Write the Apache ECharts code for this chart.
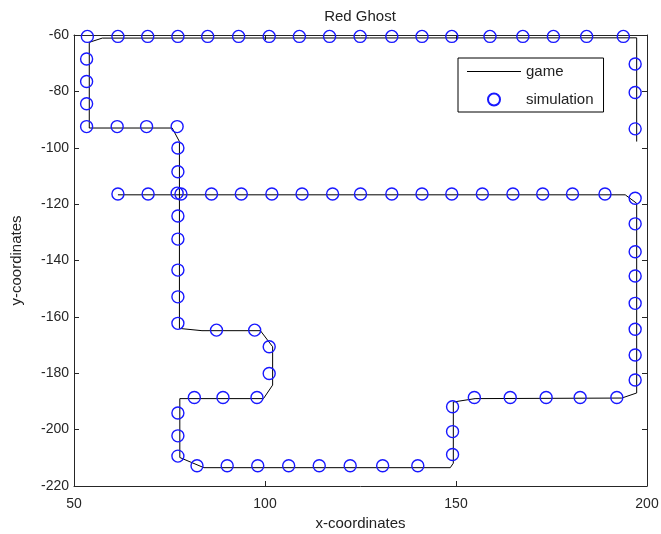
<!DOCTYPE html>
<html>
<head>
<meta charset="utf-8">
<script src="https://cdn.jsdelivr.net/npm/echarts@6/dist/echarts.min.js"></script>
<style>
  html, body { margin: 0; padding: 0; background: #fff; }
  #main { width: 661px; height: 534px; }
</style>
</head>
<body>
<div id="main"></div>
<script>
// path of the ghost in the game (corners only)
const gameX = [61.5, 194.3, 197.3, 197.3, 193.4, 155.0, 149.3, 149.3, 148.5, 84.0, 77.7, 77.7, 99.6, 102.0, 102.0, 98.8, 83.5, 77.6, 77.6, 75.7, 54.0, 54.0, 57.4, 197.3, 197.3];
const gameY = [-116.7, -116.7, -119.7, -187.0, -188.8, -189.0, -190.2, -211.9, -213.5, -213.5, -209.9, -189.0, -189.0, -184.2, -170.6, -164.9, -164.9, -164.1, -97.8, -93.0, -93.0, -62.6, -61.1, -61.0, -97.8];

// simulated positions
const simX = [
  53.5, 61.5, 69.3, 77.2, 85.0, 93.1, 101.1, 109.0, 116.9, 124.9, 133.2, 141.1, 148.9, 158.9, 167.5, 175.5, 184.2, 193.8,
  53.3, 53.3, 53.3, 53.3,
  61.3, 69.0, 77.0,
  77.2, 77.2, 77.0, 77.2, 77.2, 77.2, 77.2, 77.2,
  87.3, 97.3, 101.1, 101.1,
  97.9, 89.0, 81.5,
  77.2, 77.2, 77.2,
  82.2, 90.1, 98.1, 106.2, 114.2, 122.3, 130.8, 140.0,
  149.1, 149.1, 149.1,
  154.8, 164.2, 173.6, 182.5, 192.1,
  196.9, 196.9, 196.9, 196.9, 196.9, 196.9, 196.9, 196.9,
  61.5, 69.4, 78.0, 86.0, 93.8, 101.8, 109.7, 117.7, 125.0, 133.2, 141.1, 148.9, 156.9, 164.9, 172.7, 180.5, 189.0,
  196.9, 196.9, 196.9
];
const simY = [
  -60.5, -60.5, -60.5, -60.5, -60.5, -60.5, -60.5, -60.5, -60.5, -60.5, -60.5, -60.5, -60.5, -60.5, -60.5, -60.5, -60.5, -60.5,
  -68.5, -76.5, -84.4, -92.5,
  -92.5, -92.5, -92.5,
  -100.1, -108.5, -116.1, -124.2, -132.4, -143.4, -152.9, -162.3,
  -164.7, -164.7, -170.6, -180.1,
  -188.6, -188.6, -188.6,
  -194.1, -202.2, -209.4,
  -212.8, -212.8, -212.8, -212.8, -212.8, -212.8, -212.8, -212.8,
  -208.8, -200.7, -191.9,
  -188.6, -188.6, -188.6, -188.6, -188.6,
  -182.4, -173.5, -164.4, -155.2, -145.5, -136.9, -127.0, -117.9,
  -116.4, -116.4, -116.4, -116.4, -116.4, -116.4, -116.4, -116.4, -116.4, -116.4, -116.4, -116.4, -116.4, -116.4, -116.4, -116.4, -116.4,
  -70.3, -80.4, -93.3
];

const xTicks = [50, 200, 50];   // min, max, step
const yTicks = [-220, -60, 20];

const font = 'Liberation Sans, Arial, sans-serif';
const axisColor = '#262626';
const markerColor = '#1818ff';

const chart = echarts.init(document.getElementById('main'));

const baseAxis = {
  type: 'value',
  axisLine: { show: true, onZero: false, lineStyle: { color: axisColor, width: 1 } },
  axisTick: { show: true, inside: true, length: 5, lineStyle: { color: axisColor } },
  splitLine: { show: false },
  axisLabel: { color: axisColor, fontFamily: font, fontSize: 14 }
};

chart.setOption({
  animation: false,
  backgroundColor: '#fff',
  title: {
    text: 'Red Ghost',
    left: 355,
    top: 4,
    textAlign: 'center',
    textStyle: { fontFamily: font, fontSize: 15, fontWeight: 'normal', color: '#222' }
  },
  legend: {
    orient: 'vertical',
    left: 458,
    top: 58,
    width: 155,
    padding: [6, 10, 5, 9],
    itemGap: 13,
    itemWidth: 54,
    itemHeight: 12,
    borderColor: '#000',
    borderWidth: 1,
    backgroundColor: '#fff',
    textStyle: { fontFamily: font, fontSize: 15, color: '#222', padding: [0, 0, 0, 0] },
    data: [
      { name: 'game', icon: 'path://M0,0 L54,0 L54,1 L0,1 Z' },
      { name: 'simulation', icon: 'circle' }
    ]
  },
  grid: { left: 74, right: 14, top: 35, bottom: 48, containLabel: false, outerBoundsMode: 'none' },
  xAxis: [
    Object.assign({}, baseAxis, {
      min: xTicks[0], max: xTicks[1], interval: xTicks[2],
      name: 'x-coordinates',
      nameLocation: 'middle',
      nameGap: 30,
      nameTextStyle: { fontFamily: font, fontSize: 15, color: '#222' },
      axisLabel: Object.assign({}, baseAxis.axisLabel, { margin: 11 })
    }),
    Object.assign({}, baseAxis, {
      position: 'top',
      min: xTicks[0], max: xTicks[1], interval: xTicks[2],
      axisLabel: { show: false }
    })
  ],
  yAxis: [
    Object.assign({}, baseAxis, {
      min: yTicks[0], max: yTicks[1], interval: yTicks[2],
      name: 'y-coordinates',
      nameLocation: 'middle',
      nameGap: 50,
      nameTextStyle: { fontFamily: font, fontSize: 15, color: '#222' },
      axisLabel: Object.assign({}, baseAxis.axisLabel, { margin: 5 })
    }),
    Object.assign({}, baseAxis, {
      position: 'right',
      min: yTicks[0], max: yTicks[1], interval: yTicks[2],
      axisLabel: { show: false }
    })
  ],
  series: [
    {
      name: 'game',
      type: 'line',
      symbol: 'none',
      data: gameX.map((x, i) => [x, gameY[i]]),
      lineStyle: { color: '#000', width: 1 },
      itemStyle: { color: '#000' },
      z: 2
    },
    {
      name: 'simulation',
      type: 'scatter',
      symbol: 'circle',
      symbolSize: 12,
      data: simX.map((x, i) => [x, simY[i]]),
      itemStyle: { color: 'rgba(0,0,0,0)', borderColor: markerColor, borderWidth: 1.4, opacity: 1 },
      z: 3
    }
  ]
});
</script>
</body>
</html>
